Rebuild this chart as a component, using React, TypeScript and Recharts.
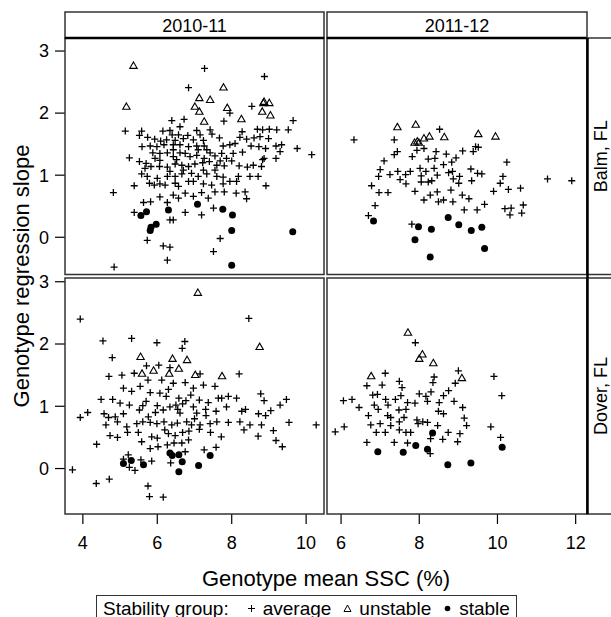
import React from 'react';
import { ScatterChart, Scatter, XAxis, YAxis } from 'recharts';

type Pair = [number, number];

// stability groups per location x season, read as [mean SSC, regression slope]
const balm1011Average: Pair[] = [
  [7.27, 2.72], [8.88, 2.59], [6.84, 2.41], [8.54, 2.11], [7.95, 2.0], [7.79, 1.87], [6.72, 1.9], [6.39, 1.88], [6.61, 1.78], [9.65, 1.88],
  [5.14, 1.71], [5.58, 1.71], [5.52, 1.64], [5.74, 1.61], [6.15, 1.71], [6.34, 1.72], [6.4, 1.65], [6.57, 1.65], [6.82, 1.64], [7.06, 1.72],
  [7.15, 1.65], [7.42, 1.73], [7.47, 1.66], [7.67, 1.6], [8.28, 1.7], [8.22, 1.61], [8.4, 1.58], [8.6, 1.6], [8.69, 1.74], [8.83, 1.73],
  [9.01, 1.74], [9.21, 1.73], [9.52, 1.73], [8.76, 1.62], [8.99, 1.59], [5.93, 1.58], [6.09, 1.55], [6.25, 1.57], [6.48, 1.56], [6.7, 1.59],
  [6.97, 1.57], [7.24, 1.56], [5.59, 1.46], [5.81, 1.47], [5.99, 1.46], [6.18, 1.49], [6.43, 1.49], [6.61, 1.49], [6.84, 1.46], [7.06, 1.47],
  [7.26, 1.47], [7.77, 1.47], [7.95, 1.49], [8.09, 1.51], [8.52, 1.47], [8.73, 1.46], [8.91, 1.43], [9.19, 1.47], [9.34, 1.49], [9.76, 1.43],
  [10.15, 1.33], [9.3, 1.38], [8.87, 1.27], [9.19, 1.27], [8.29, 1.37], [5.25, 1.28], [5.52, 1.22], [5.7, 1.19], [5.88, 1.36], [6.07, 1.35],
  [6.27, 1.36], [6.43, 1.3], [6.61, 1.36], [6.75, 1.35], [6.88, 1.3], [7.06, 1.32], [7.26, 1.27], [7.42, 1.36], [7.55, 1.31], [7.73, 1.35],
  [7.86, 1.27], [8.0, 1.23], [5.83, 1.14], [6.06, 1.14], [6.27, 1.13], [6.48, 1.18], [6.66, 1.16], [6.84, 1.14], [7.01, 1.18], [7.22, 1.2],
  [7.4, 1.22], [7.6, 1.16], [7.8, 1.15], [8.2, 1.15], [8.42, 1.13], [8.58, 1.16], [8.8, 1.14], [8.83, 1.25], [5.58, 1.02], [5.73, 0.98],
  [6.0, 0.95], [6.27, 0.98], [6.48, 0.98], [6.66, 1.02], [6.92, 1.03], [7.1, 0.98], [7.33, 1.02], [7.6, 0.98], [7.77, 0.97], [8.18, 0.98],
  [8.49, 0.98], [8.71, 0.98], [5.38, 0.83], [5.79, 0.87], [6.07, 0.86], [6.21, 0.84], [6.48, 0.87], [6.84, 0.9], [7.24, 0.86], [7.46, 0.84],
  [7.77, 0.86], [7.95, 0.9], [8.13, 0.9], [8.92, 0.83], [4.82, 0.72], [6.07, 0.65], [6.43, 0.68], [6.75, 0.71], [6.97, 0.66], [7.19, 0.72],
  [7.55, 0.73], [7.8, 0.73], [8.12, 0.71], [8.36, 0.73], [6.57, 0.63], [7.37, 0.63], [8.4, 0.62], [5.63, 0.56], [5.82, 0.57], [6.27, 0.56],
  [5.38, 0.4], [6.75, 0.4], [7.19, 0.36], [7.51, 0.47], [6.34, 0.28], [6.43, 0.28], [5.73, -0.05], [7.69, -0.02], [6.16, -0.14], [6.34, -0.16],
  [7.51, -0.23], [6.27, -0.37], [4.84, -0.48],
  [6.52, 1.25], [6.7, 1.08], [6.34, 1.06], [6.97, 0.9], [6.57, 0.82], [5.92, 0.84], [5.67, 1.11], [7.24, 1.08], [7.55, 1.08], [7.69, 1.23],
  [8.04, 1.35], [7.33, 1.41], [7.1, 1.41], [6.43, 1.41], [6.07, 1.24], [5.94, 1.27],
];
const balm1011Unstable: Pair[] = [
  [5.36, 2.76], [5.17, 2.1], [7.78, 2.41], [7.13, 2.24], [7.42, 2.21], [7.01, 2.1], [7.13, 2.02], [7.26, 1.86],
  [7.88, 2.08], [8.26, 1.9], [8.85, 2.16], [9.01, 2.16], [8.82, 2.02], [9.04, 1.96], [8.87, 2.18],
];
const balm1011Stable: Pair[] = [
  [5.56, 0.35], [5.71, 0.41], [6.3, 0.44], [7.08, 0.53], [7.76, 0.45], [8.02, 0.36], [5.97, 0.21], [5.83, 0.16],
  [5.81, 0.11], [8.0, 0.11], [9.64, 0.09], [8.0, -0.45],
];

const balm1112Average: Pair[] = [
  [6.33, 1.57], [7.36, 1.57], [8.52, 1.74], [7.44, 1.38], [7.36, 1.33], [7.1, 1.23], [7.82, 1.3], [7.94, 1.4], [8.12, 1.43], [8.43, 1.38],
  [8.69, 1.34], [8.62, 1.17], [8.23, 1.26], [8.4, 1.27], [8.83, 1.21], [8.94, 1.28], [9.11, 1.39], [9.38, 1.38], [9.51, 1.45], [9.44, 1.46],
  [10.24, 1.21], [7.0, 1.09], [6.96, 0.98], [7.25, 1.01], [7.45, 1.06], [7.51, 0.93], [7.65, 1.01], [7.66, 0.86], [7.77, 1.06], [8.02, 1.11],
  [8.05, 0.99], [8.05, 0.89], [8.17, 1.06], [8.23, 0.89], [8.32, 0.91], [8.38, 1.11], [8.46, 1.0], [8.75, 1.04], [8.85, 1.06], [8.87, 0.94],
  [9.03, 0.98], [9.01, 0.87], [9.32, 1.1], [9.34, 0.91], [9.49, 1.03], [9.6, 1.02], [10.14, 0.98], [10.07, 0.87], [6.78, 0.83], [6.97, 0.72],
  [7.2, 0.72], [7.89, 0.74], [8.28, 0.68], [8.46, 0.73], [8.12, 0.6], [8.49, 0.57], [8.62, 0.6], [8.81, 0.76], [8.86, 0.57], [9.1, 0.68],
  [9.27, 0.62], [9.9, 0.74], [10.28, 0.77], [10.59, 0.79], [11.28, 0.94], [11.9, 0.91], [6.87, 0.51], [6.7, 0.35], [9.15, 0.44], [9.48, 0.44],
  [9.67, 0.53], [10.19, 0.46], [10.35, 0.47], [10.32, 0.36], [10.66, 0.52], [10.62, 0.39], [7.81, 0.21],
];
const balm1112Unstable: Pair[] = [
  [7.44, 1.77], [7.91, 1.81], [7.88, 1.52], [7.95, 1.54], [7.99, 1.52], [8.12, 1.59], [8.26, 1.62], [8.64, 1.61], [9.51, 1.66], [9.95, 1.62],
];
const balm1112Stable: Pair[] = [
  [6.83, 0.26], [7.98, 0.17], [8.31, 0.13], [7.89, -0.04], [8.74, 0.32], [9.01, 0.2], [9.33, 0.11], [9.6, 0.16], [9.67, -0.18], [8.28, -0.32],
];

const dover1011Average: Pair[] = [
  [3.93, 2.4], [8.46, 2.41], [4.54, 2.05], [5.31, 2.09], [5.99, 2.02], [6.74, 2.04], [6.67, 1.93], [4.79, 1.78], [6.04, 1.66], [5.71, 1.65],
  [6.34, 1.62], [4.7, 1.48], [5.05, 1.5], [5.38, 1.53], [7.15, 1.52], [8.2, 1.52], [5.75, 1.42], [6.12, 1.42], [6.43, 1.37], [6.75, 1.38],
  [6.97, 1.29], [7.24, 1.34], [7.55, 1.32], [5.09, 1.29], [5.31, 1.24], [5.54, 1.32], [5.81, 1.22], [6.07, 1.21], [6.24, 1.16], [6.58, 1.13],
  [6.77, 1.09], [7.13, 1.1], [7.37, 1.06], [7.64, 1.13], [7.73, 1.13], [7.91, 1.16], [8.13, 1.13], [8.78, 1.2], [8.87, 1.09], [9.47, 1.11],
  [9.3, 1.02], [9.05, 0.93], [4.49, 1.11], [4.8, 1.11], [5.0, 1.05], [5.25, 1.02], [3.93, 0.82], [4.13, 0.9], [4.57, 0.88], [4.69, 0.82],
  [4.87, 0.83], [5.09, 0.88], [5.52, 0.94], [5.61, 1.01], [5.76, 0.83], [6.0, 1.01], [6.16, 0.94], [6.34, 0.99], [6.61, 0.89], [6.68, 1.04],
  [6.97, 0.99], [7.06, 0.89], [7.31, 0.85], [7.58, 0.92], [7.86, 0.99], [8.27, 0.92], [8.37, 0.95], [8.72, 0.88], [8.91, 0.85], [4.62, 0.7],
  [4.93, 0.75], [5.18, 0.67], [5.45, 0.72], [5.61, 0.75], [5.81, 0.74], [5.99, 0.72], [6.18, 0.75], [6.39, 0.7], [6.54, 0.73], [6.79, 0.75],
  [6.92, 0.7], [7.15, 0.7], [7.42, 0.72], [7.6, 0.75], [7.91, 0.74], [8.22, 0.75], [8.49, 0.7], [8.8, 0.7], [9.54, 0.74], [10.27, 0.7],
  [9.12, 0.61], [8.33, 0.62], [4.73, 0.53], [4.93, 0.5], [5.2, 0.58], [5.49, 0.58], [5.58, 0.43], [5.85, 0.51], [6.0, 0.49], [6.3, 0.56],
  [6.48, 0.53], [6.68, 0.58], [6.84, 0.46], [7.13, 0.63], [7.43, 0.58], [7.72, 0.51], [8.71, 0.52], [9.19, 0.45], [9.36, 0.35], [4.37, 0.39],
  [5.81, 0.32], [6.02, 0.35], [6.27, 0.38], [6.45, 0.41], [6.66, 0.41], [6.75, 0.27], [7.26, 0.3], [7.58, 0.34], [5.22, 0.22], [5.09, 0.15],
  [5.25, 0.02], [5.4, -0.03], [5.56, 0.14], [5.85, 0.12], [6.36, 0.09], [3.72, -0.02], [4.36, -0.24], [4.71, -0.17], [5.75, -0.28], [5.79, -0.45],
  [6.16, -0.46],
  [6.3, 1.27], [6.5, 1.02], [6.9, 1.18], [7.0, 0.8], [6.2, 0.62], [5.7, 1.08], [6.55, 0.95], [7.3, 0.95], [5.95, 0.9], [6.85, 0.6],
];
const dover1011Unstable: Pair[] = [
  [7.09, 2.82], [8.75, 1.95], [5.55, 1.79], [6.41, 1.76], [6.8, 1.74], [5.9, 1.57], [5.59, 1.52], [6.58, 1.6], [6.32, 1.52], [7.02, 1.5], [7.74, 1.48],
];
const dover1011Stable: Pair[] = [
  [5.09, 0.08], [5.3, 0.13], [5.63, 0.06], [6.34, 0.25], [6.4, 0.21], [6.58, 0.22], [6.67, 0.11], [6.58, -0.05], [7.11, 0.05], [7.42, 0.21],
];

const dover1112Average: Pair[] = [
  [7.9, 2.02], [7.13, 1.53], [7.05, 1.34], [6.66, 1.33], [7.49, 1.4], [7.56, 1.3], [8.38, 1.47], [8.35, 1.38], [9.0, 1.57], [8.92, 1.37],
  [9.91, 1.48], [10.11, 1.17], [6.06, 1.09], [6.28, 1.11], [6.46, 0.98], [6.81, 1.18], [6.93, 1.19], [7.14, 1.11], [7.2, 1.02], [6.85, 1.02],
  [7.39, 1.11], [7.53, 1.17], [7.7, 1.06], [7.89, 1.05], [8.0, 1.2], [8.17, 1.16], [8.3, 1.23], [8.21, 1.08], [8.51, 1.06], [8.62, 1.17],
  [8.75, 1.25], [8.89, 1.08], [9.11, 0.98], [6.7, 0.85], [6.95, 0.95], [7.19, 0.85], [7.27, 0.82], [7.48, 0.94], [7.61, 0.82], [7.66, 0.95],
  [7.94, 0.78], [7.97, 0.72], [8.49, 0.92], [8.62, 0.88], [9.15, 0.81], [5.85, 0.59], [6.08, 0.67], [6.76, 0.7], [7.0, 0.72], [7.27, 0.69],
  [7.49, 0.75], [7.49, 0.62], [7.66, 0.58], [7.78, 0.58], [8.09, 0.75], [8.21, 0.74], [8.47, 0.69], [8.74, 0.58], [9.04, 0.56], [9.21, 0.69],
  [9.83, 0.67], [6.9, 0.58], [7.13, 0.58], [6.66, 0.42], [7.36, 0.42], [7.7, 0.41], [8.29, 0.48], [8.6, 0.47], [8.98, 0.43], [10.08, 0.5],
  [8.28, 0.24],
];
const dover1112Unstable: Pair[] = [
  [7.71, 2.18], [8.08, 1.83], [8.0, 1.76], [8.36, 1.69], [6.77, 1.48], [9.09, 1.45],
];
const dover1112Stable: Pair[] = [
  [6.94, 0.27], [7.59, 0.26], [7.91, 0.37], [8.21, 0.31], [8.73, 0.06], [9.32, 0.09], [10.12, 0.34], [8.34, 0.57],
];

const seasons = ['2010-11', '2011-12'];
const locations = ['Balm, FL', 'Dover, FL'];
const xTicksBySeason = [[4, 6, 8, 10], [6, 8, 10, 12]];
const yTicks = [0, 1, 2, 3];

const FONT = '"Liberation Sans", Arial, Helvetica, sans-serif';

// panel layout (page px)
const COL_X: Pair[] = [[65, 324], [327, 587]];
const ROW_Y: Pair[] = [[38, 274.5], [278, 514]];
const X_DOMAINS: Pair[] = [[3.52, 10.48], [5.64, 12.29]];
const Y_DOMAINS: Pair[] = [[-0.6, 3.21], [-0.73, 3.06]];
const Y_AXIS_W = 60;
const X_AXIS_H = 50;
const TOP_PAD = 12;

const toPoints = (arr: Pair[]) => arr.map(([x, y]) => ({ x, y }));

const PlusShape = (p: any) => {
  const { cx, cy } = p;
  if (cx == null || cy == null) return <g />;
  const r = 3.5;
  return (
    <path
      d={`M${cx - r},${cy}H${cx + r}M${cx},${cy - r}V${cy + r}`}
      stroke="#000"
      strokeWidth={1.3}
      fill="none"
    />
  );
};

const TriangleShape = (p: any) => {
  const { cx, cy } = p;
  if (cx == null || cy == null) return <g />;
  return (
    <path
      d={`M${cx},${cy - 4}L${cx + 3.7},${cy + 2.4}L${cx - 3.7},${cy + 2.4}Z`}
      stroke="#000"
      strokeWidth={1.1}
      fill="none"
    />
  );
};

const DotShape = (p: any) => {
  const { cx, cy } = p;
  if (cx == null || cy == null) return <g />;
  return <circle cx={cx} cy={cy} r={3.5} fill="#000" />;
};

type PanelProps = {
  row: number;
  col: number;
  average: Pair[];
  unstable: Pair[];
  stable: Pair[];
};

const Panel = ({ row, col, average, unstable, stable }: PanelProps) => {
  const [x0, x1] = COL_X[col];
  const [y0, y1] = ROW_Y[row];
  const showY = col === 0;
  const showX = row === 1;
  const left = showY ? x0 - Y_AXIS_W : x0;
  const width = x1 - left;
  const height = y1 - y0 + TOP_PAD + (showX ? X_AXIS_H : 0);

  return (
    <div style={{ position: 'absolute', left, top: y0 - TOP_PAD, width, height }}>
      <ScatterChart
        width={width}
        height={height}
        margin={{ top: TOP_PAD, right: 0, bottom: 0, left: 0 }}>
        <XAxis
          type="number"
          dataKey="x"
          domain={X_DOMAINS[col]}
          ticks={xTicksBySeason[col]}
          allowDataOverflow
          hide={!showX}
          height={X_AXIS_H}
          axisLine={false}
          tickLine={{ stroke: '#000', strokeWidth: 1.2 }}
          tickSize={10}
          tickMargin={12}
          interval={0}
          tick={{ fontSize: 18, fill: '#000', fontFamily: FONT }}
        />
        <YAxis
          type="number"
          dataKey="y"
          domain={Y_DOMAINS[row]}
          ticks={yTicks}
          allowDataOverflow
          hide={!showY}
          width={Y_AXIS_W}
          axisLine={false}
          tickLine={{ stroke: '#000', strokeWidth: 1.2 }}
          tickSize={10}
          tickMargin={6}
          interval={0}
          tick={{ fontSize: 18, fill: '#000', fontFamily: FONT }}
        />
        <Scatter data={toPoints(average)} shape={PlusShape} isAnimationActive={false} />
        <Scatter data={toPoints(unstable)} shape={TriangleShape} isAnimationActive={false} />
        <Scatter data={toPoints(stable)} shape={DotShape} isAnimationActive={false} />
      </ScatterChart>
    </div>
  );
};

const LegendPlus = () => (
  <svg width={9} height={9} style={{ margin: '0 7px 0 18px' }}>
    <path d="M1,4.5H8M4.5,1V8" stroke="#000" strokeWidth={1} />
  </svg>
);
const LegendTriangle = () => (
  <svg width={9} height={9} style={{ margin: '0 7px 0 12px' }}>
    <path d="M4.5,1L8,7.5L1,7.5Z" stroke="#000" strokeWidth={1} fill="none" />
  </svg>
);
const LegendDot = () => (
  <svg width={9} height={9} style={{ margin: '0 7px 0 12px' }}>
    <circle cx={4.5} cy={4.5} r={2.8} fill="#000" />
  </svg>
);

export default function App() {
  const frame = '#333';
  return (
    <div
      style={{
        position: 'absolute',
        left: 0,
        top: 0,
        width: 611,
        height: 617,
        overflow: 'hidden',
        background: '#fff',
        fontFamily: FONT,
      }}>
      <Panel row={0} col={0} average={balm1011Average} unstable={balm1011Unstable} stable={balm1011Stable} />
      <Panel row={0} col={1} average={balm1112Average} unstable={balm1112Unstable} stable={balm1112Stable} />
      <Panel row={1} col={0} average={dover1011Average} unstable={dover1011Unstable} stable={dover1011Stable} />
      <Panel row={1} col={1} average={dover1112Average} unstable={dover1112Unstable} stable={dover1112Stable} />

      <svg
        width={611}
        height={617}
        style={{ position: 'absolute', left: 0, top: 0, pointerEvents: 'none' }}>
        {ROW_Y.map(([y0, y1], r) =>
          COL_X.map(([x0, x1], c) => (
            <rect key={`p${r}${c}`} x={x0} y={y0} width={x1 - x0} height={y1 - y0} fill="none" stroke={frame} strokeWidth={1.5} />
          ))
        )}
        {COL_X.map(([x0, x1], c) => (
          <g key={`s${c}`}>
            <rect x={x0} y={12} width={x1 - x0} height={26} fill="none" stroke={frame} strokeWidth={1.5} />
            <line x1={x0} x2={x1} y1={38} y2={38} stroke="#000" strokeWidth={2.5} />
            <text x={(x0 + x1) / 2} y={31.5} textAnchor="middle" fontSize={18} fill="#000" fontFamily={FONT}>
              {seasons[c]}
            </text>
          </g>
        ))}
        {ROW_Y.map(([y0, y1], r) => (
          <g key={`l${r}`}>
            <rect x={587} y={y0} width={40} height={y1 - y0} fill="none" stroke={frame} strokeWidth={1.5} />
            <text
              transform={`translate(607,${(y0 + y1) / 2}) rotate(-90)`}
              textAnchor="middle"
              fontSize={18}
              fill="#000"
              fontFamily={FONT}>
              {locations[r]}
            </text>
          </g>
        ))}
        <line x1={587.5} x2={587.5} y1={38} y2={514} stroke="#000" strokeWidth={2.5} />
        <text
          transform="translate(29,276) rotate(-90)"
          textAnchor="middle"
          fontSize={22}
          fill="#000"
          fontFamily={FONT}>
          Genotype regression slope
        </text>
        <text x={326} y={586} textAnchor="middle" fontSize={22} fill="#000" fontFamily={FONT}>
          Genotype mean SSC (%)
        </text>
      </svg>

      <div
        style={{
          position: 'absolute',
          left: 96,
          top: 595,
          height: 27,
          border: `1.5px solid ${frame}`,
          display: 'flex',
          alignItems: 'center',
          padding: '0 6px',
          fontSize: 19,
          whiteSpace: 'nowrap',
          color: '#000',
          boxSizing: 'border-box',
        }}>
        <span>Stability group:</span>
        <LegendPlus />
        <span>average</span>
        <LegendTriangle />
        <span>unstable</span>
        <LegendDot />
        <span>stable</span>
      </div>
    </div>
  );
}
